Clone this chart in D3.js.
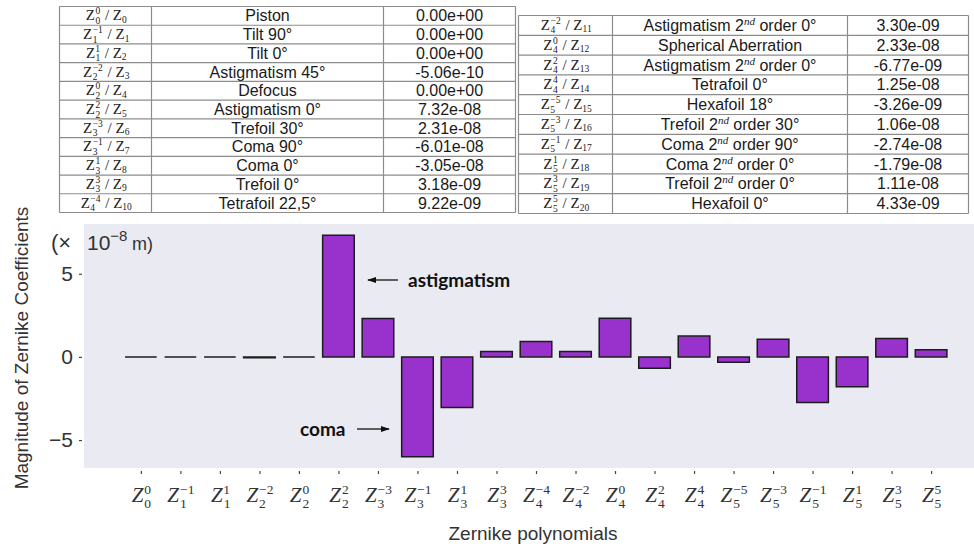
<!DOCTYPE html>
<html>
<head>
<meta charset="utf-8">
<script src="https://cdn.jsdelivr.net/npm/d3@7"></script>
<style>
  html, body { margin: 0; padding: 0; background: #ffffff; }
  svg { display: block; }
</style>
</head>
<body>
<svg id="chart" width="974" height="548"></svg>
<script>
// Zernike terms in OSA/ANSI order: radial order n, azimuthal frequency m
const zernN = [0, 1, 1, 2, 2, 2, 3, 3, 3, 3, 4, 4, 4, 4, 4, 5, 5, 5, 5, 5, 5];
const zernM = [0, -1, 1, -2, 0, 2, -3, -1, 1, 3, -4, -2, 0, 2, 4, -5, -3, -1, 1, 3, 5];
// Aberration names; |nd| marks a superscripted ordinal suffix
const aberrations = [
  "Piston", "Tilt 90°", "Tilt 0°", "Astigmatism 45°", "Defocus",
  "Astigmatism 0°", "Trefoil 30°", "Coma 90°", "Coma 0°", "Trefoil 0°",
  "Tetrafoil 22,5°", "Astigmatism 2|nd| order 0°", "Spherical Aberration",
  "Astigmatism 2|nd| order 0°", "Tetrafoil 0°", "Hexafoil 18°",
  "Trefoil 2|nd| order 30°", "Coma 2|nd| order 90°", "Coma 2|nd| order 0°",
  "Trefoil 2|nd| order 0°", "Hexafoil 0°"
];
// Coefficient magnitudes in metres
const coefficients = [
  0.00e+00, 0.00e+00, 0.00e+00, -5.06e-10, 0.00e+00,
  7.32e-08, 2.31e-08, -6.01e-08, -3.05e-08, 3.18e-09,
  9.22e-09, 3.30e-09, 2.33e-08, -6.77e-09, 1.25e-08,
  -3.26e-09, 1.06e-08, -2.74e-08, -1.79e-08, 1.11e-08, 4.33e-09
];
const yTicks = [-5, 0, 5];
const unitScale = 1e-8;           // plotted in units of 10^-8 m
const leftTableRows = d3.range(0, 11);
const rightTableRows = d3.range(11, 21);

const svg = d3.select("#chart");
const minus = "\u2212";

// "0.00e+00" style scientific notation
function sci(v) {
  const [mant, ex] = v.toExponential(2).split("e");
  let digits = ex.slice(1);
  if (digits.length < 2) digits = "0" + digits;
  return mant + "e" + ex[0] + digits;
}

// Z with stacked subscript/superscript in a single text element, centred on cx.
// supUp: superscript raise above baseline; subDown: subscript drop below it.
function zSymbol(parent, cx, y, n, m, opts) {
  const t = parent.append("text").attr("x", 0).attr("y", y)
    .attr("font-family", "Liberation Serif, serif")
    .attr("font-size", opts.size).attr("fill", opts.color);
  t.append("tspan").attr("font-style", opts.italic ? "italic" : "normal").text("Z");
  const sub = t.append("tspan").attr("font-size", opts.small)
    .attr("dx", opts.gap).attr("dy", opts.subDown).text(String(n));
  const subW = sub.node().getComputedTextLength();
  t.append("tspan").attr("font-size", opts.small)
    .attr("dx", -subW).attr("dy", -opts.subDown - opts.supUp)
    .text((m < 0 ? minus : "") + Math.abs(m));
  if (opts.suffix) {
    t.append("tspan").attr("dx", 1).attr("dy", opts.supUp).text(opts.suffix.text);
    t.append("tspan").attr("font-size", opts.small).attr("dy", opts.subDown - 1).text(opts.suffix.sub);
  }
  const w = t.node().getComputedTextLength() - subW;
  t.attr("x", cx - w / 2);
  return t;
}

// Aberration name with an optional superscripted ordinal
function nameText(parent, cx, y, label) {
  const t = parent.append("text").attr("x", cx).attr("y", y)
    .attr("text-anchor", "middle")
    .attr("font-family", "Liberation Sans, Arial, sans-serif")
    .attr("font-size", 16).attr("fill", "#1a1a1a");
  label.split("|").forEach((p, i) => {
    if (i % 2 === 1) {
      t.append("tspan").attr("font-family", "Liberation Serif, serif")
        .attr("font-style", "italic").attr("font-size", 11).attr("dy", -6).text(p);
    } else {
      t.append("tspan").attr("dy", i === 0 ? 0 : 6).text(p);
    }
  });
}

// ---------- coefficient tables ----------
function drawTable(rows, box) {
  const g = svg.append("g");
  const rowH = (box.y1 - box.y0) / rows.length;
  const colX = box.cols;
  rows.forEach((j, i) => {
    const mid = box.y0 + i * rowH + rowH / 2;
    zSymbol(g, (colX[0] + colX[1]) / 2, mid + 4.5, zernN[j], zernM[j], {
      italic: false, size: 15, small: 9.5, supUp: 6, subDown: 3.5, gap: 0.5,
      color: "#222", suffix: { text: " / Z", sub: String(j) }
    });
    nameText(g, (colX[1] + colX[2]) / 2, mid + 5.5, aberrations[j]);
    g.append("text").attr("x", (colX[2] + colX[3]) / 2).attr("y", mid + 5.5)
      .attr("text-anchor", "middle")
      .attr("font-family", "Liberation Sans, Arial, sans-serif")
      .attr("font-size", 16).attr("fill", "#1a1a1a")
      .text(sci(coefficients[j]));
  });
  const lineStyle = sel => sel.attr("stroke", "#8c8c8c").attr("stroke-width", 1.2);
  d3.range(rows.length + 1).forEach(i => {
    const y = box.y0 + i * rowH;
    lineStyle(g.append("line").attr("x1", colX[0]).attr("x2", colX[3]).attr("y1", y).attr("y2", y));
  });
  colX.forEach(x => {
    lineStyle(g.append("line").attr("x1", x).attr("x2", x).attr("y1", box.y0).attr("y2", box.y1));
  });
}
drawTable(leftTableRows, { y0: 6.5, y1: 212.5, cols: [59.5, 151.5, 383.5, 515.5] });
drawTable(rightTableRows, { y0: 15.5, y1: 213.5, cols: [518.5, 612.5, 847.5, 968.5] });

// ---------- bar chart ----------
const plot = { left: 84, top: 224, right: 988, bottom: 468 };
const values = coefficients.map(c => c / unitScale);
const idx = d3.range(values.length);

const x = d3.scaleLinear().domain([-1.44, values.length - 1 + 1.44]).range([plot.left, plot.right]);
const y = d3.scaleLinear().domain([-6.68, 7.99]).range([plot.bottom, plot.top]);
const barW = 0.8;

svg.append("rect")
  .attr("x", plot.left).attr("y", plot.top)
  .attr("width", plot.right - plot.left).attr("height", plot.bottom - plot.top)
  .attr("fill", "#eaeaf2");

// bars as closed paths so zero-height bars still show their outline
svg.append("g").selectAll("path").data(idx).join("path")
  .attr("d", i => {
    const p = d3.path();
    const x0 = x(i - barW / 2), x1 = x(i + barW / 2);
    const y0 = y(0), y1 = y(values[i]);
    p.moveTo(x0, y0); p.lineTo(x1, y0); p.lineTo(x1, y1); p.lineTo(x0, y1); p.closePath();
    return p.toString();
  })
  .attr("fill", "#9932cc")
  .attr("stroke", "#1c1c1c")
  .attr("stroke-width", 1.5);

// y axis
const yAxis = d3.axisLeft(y).tickValues(yTicks).tickSize(3).tickPadding(6)
  .tickFormat(d => (d < 0 ? minus : "") + Math.abs(d));
const yg = svg.append("g").attr("transform", `translate(${plot.left - 2},0)`).call(yAxis);
yg.select(".domain").remove();
yg.selectAll(".tick line").attr("stroke", "#444").attr("stroke-width", 1.2);
yg.selectAll(".tick text").attr("font-family", "Liberation Sans, Arial, sans-serif")
  .attr("font-size", 21).attr("fill", "#333");

// x axis (ticks only; labels drawn as Zernike symbols)
const xAxis = d3.axisBottom(x).tickValues(idx).tickSize(3).tickFormat("");
const xg = svg.append("g").attr("transform", `translate(0,${plot.bottom + 3})`).call(xAxis);
xg.select(".domain").remove();
xg.selectAll(".tick line").attr("stroke", "#444").attr("stroke-width", 1.2);
idx.forEach(i => {
  zSymbol(svg, x(i), 502, zernN[i], zernM[i], {
    italic: true, size: 21, small: 13.5, supUp: 8.5, subDown: 6, gap: 1, color: "#333"
  });
});

// axis titles
svg.append("text").attr("x", 533).attr("y", 540)
  .attr("text-anchor", "middle")
  .attr("font-family", "Liberation Sans, Arial, sans-serif")
  .attr("font-size", 19).attr("fill", "#333")
  .text("Zernike polynomials");
svg.append("text")
  .attr("transform", "translate(28,348) rotate(-90)")
  .attr("text-anchor", "middle")
  .attr("font-family", "Liberation Sans, Arial, sans-serif")
  .attr("font-size", 19).attr("fill", "#333")
  .text("Magnitude of Zernike Coefficients");

// unit multiplier
const unit = svg.append("text").attr("x", 51).attr("y", 250)
  .attr("font-family", "Liberation Sans, Arial, sans-serif")
  .attr("font-size", 22).attr("fill", "#333");
unit.append("tspan").text("(\u00d7");
unit.append("tspan").attr("x", 87).attr("font-size", 21).text("10");
unit.append("tspan").attr("dy", -9).attr("font-size", 15).text(minus + "8");
unit.append("tspan").attr("x", 132).attr("dy", 9).attr("font-size", 18).text("m)");

// annotations
const defs = svg.append("defs");
defs.append("marker").attr("id", "arrowhead")
  .attr("viewBox", "0 0 10 10").attr("refX", 9).attr("refY", 5)
  .attr("markerWidth", 7).attr("markerHeight", 7).attr("orient", "auto")
  .append("path").attr("d", "M0,1.5 L10,5 L0,8.5 Z").attr("fill", "#111");

function annotate(text, tx, ty, ax0, ax1, ay) {
  svg.append("line").attr("x1", ax0).attr("x2", ax1).attr("y1", ay).attr("y2", ay)
    .attr("stroke", "#111").attr("stroke-width", 1.3).attr("marker-end", "url(#arrowhead)");
  svg.append("text").attr("x", tx).attr("y", ty)
    .attr("font-family", "Lato, Open Sans, sans-serif")
    .attr("font-weight", "bold").attr("font-size", 19).attr("fill", "#111")
    .text(text);
}
annotate("astigmatism", 408, 287, 398, 368, 280);
annotate("coma", 300, 436, 357, 389, 429);
</script>
</body>
</html>
